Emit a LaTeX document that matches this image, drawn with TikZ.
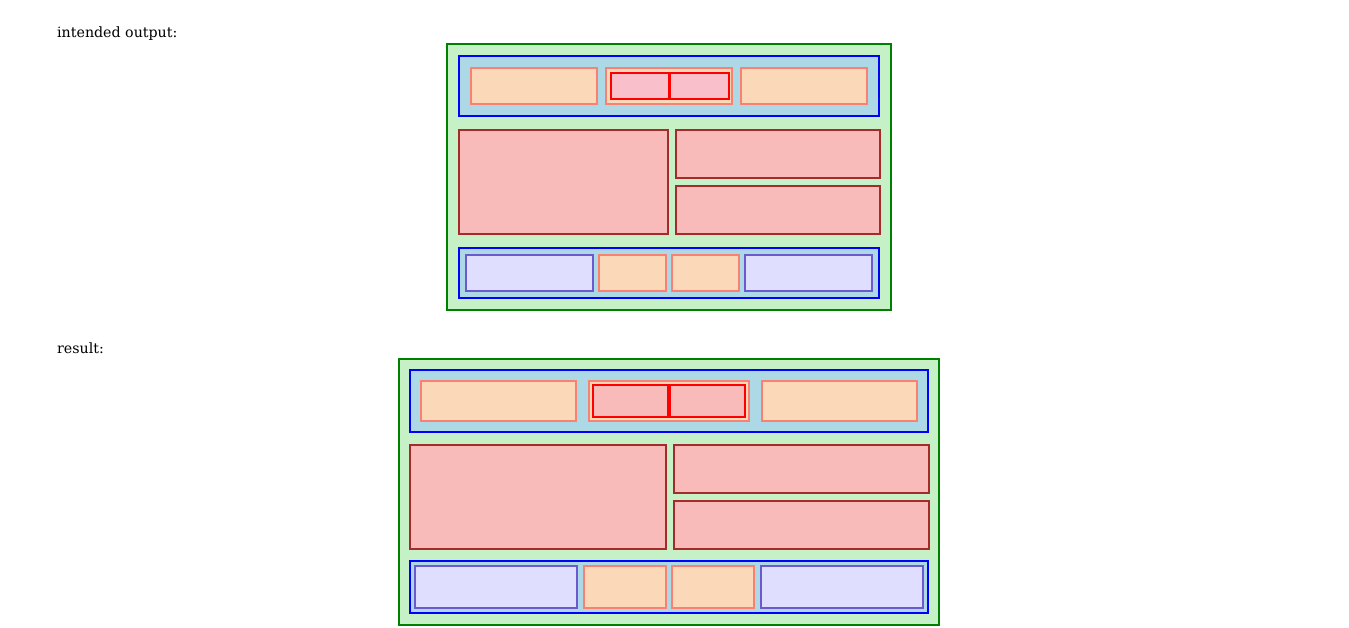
\documentclass[tikz,border=0pt]{standalone}
\usepackage{fontspec}
\setmainfont{DejaVu Serif}
\usepackage{tikz}
\usetikzlibrary{positioning}
\usepackage{xcolor}
\definecolor{framegreen}{HTML}{C6F0C6}
\definecolor{frameline}{HTML}{008000}
\definecolor{barblue}{HTML}{ADD8E6}
\definecolor{peachfill}{HTML}{FBD8B8}
\definecolor{salmonline}{HTML}{FA8072}
\definecolor{pinkcell}{HTML}{F9BFCB}
\definecolor{brickfill}{HTML}{F9BABA}
\definecolor{brickline}{HTML}{A52A2A}
\definecolor{lavfill}{HTML}{E0DEFF}
\definecolor{lavline}{HTML}{6A5ACD}

\begin{document}
\begin{tikzpicture}[
    x=1pt, y=-1pt,
    box/.style={rectangle, anchor=north west, inner sep=0pt, outer sep=0pt, line width=1.9pt},
    frame/.style={box, draw=frameline, fill=framegreen},
    bar/.style={box, draw=blue, fill=barblue},
    peach/.style={box, draw=salmonline, fill=peachfill},
    cell/.style={box, draw=red, fill=pinkcell, line width=2pt},
    brick/.style={box, draw=brickline, fill=brickfill},
    lav/.style={box, draw=lavline, fill=lavfill},
    caption/.style={anchor=base west, inner sep=0pt, font=\fontsize{14.2}{16}\selectfont}
]
    \useasboundingbox (0,0) rectangle (1349,628);

    % Labels
    \node[caption] (lblIntended) at (57,38) {intended output:};
    \node[caption] (lblResult) at (57,353) {result:};

    % Intended output
    \node[frame, minimum width=444pt, minimum height=266pt] (outerA) at (447,44) {};
    \node[bar, minimum width=420pt, minimum height=60pt] (topA) at (459,56) {};
    \node[peach, minimum width=126pt, minimum height=36pt] (peachA1) at (471,68) {};
    \node[peach, minimum width=126pt, minimum height=36pt] (peachA2) at (606,68) {};
    \node[cell, minimum width=57.5pt, minimum height=26pt] (cellA1) at (611,73) {};
    \node[cell, minimum width=58.5pt, minimum height=26pt] (cellA2) at (670,73) {};
    \node[peach, minimum width=126pt, minimum height=36pt] (peachA3) at (741,68) {};
    \node[brick, minimum width=209pt, minimum height=104pt] (brickA1) at (459,130) {};
    \node[brick, minimum width=204pt, minimum height=48pt] (brickA2) at (676,130) {};
    \node[brick, minimum width=204pt, minimum height=48pt] (brickA3) at (676,186) {};
    \node[bar, minimum width=420pt, minimum height=50pt] (botA) at (459,248) {};
    \node[lav, minimum width=127pt, minimum height=36pt] (lavA1) at (466,255) {};
    \node[peach, minimum width=67pt, minimum height=36pt] (peachA4) at (599,255) {};
    \node[peach, minimum width=67pt, minimum height=36pt] (peachA5) at (672,255) {};
    \node[lav, minimum width=127pt, minimum height=36pt] (lavA2) at (745,255) {};

    % Result
    \node[frame, minimum width=540pt, minimum height=266pt] (outerB) at (399,359) {};
    \node[bar, minimum width=518pt, minimum height=62pt] (topB) at (410,370) {};
    \node[peach, minimum width=155pt, minimum height=40pt] (peachB1) at (421,381) {};
    \node[peach, minimum width=160pt, minimum height=40pt] (peachB2) at (589,381) {};
    \node[cell, fill=brickfill, minimum width=75pt, minimum height=32pt] (cellB1) at (593,385) {};
    \node[cell, fill=brickfill, minimum width=75pt, minimum height=32pt] (cellB2) at (670,385) {};
    \node[peach, minimum width=155pt, minimum height=40pt] (peachB3) at (762,381) {};
    \node[brick, minimum width=256pt, minimum height=104pt] (brickB1) at (410,445) {};
    \node[brick, minimum width=255pt, minimum height=48pt] (brickB2) at (674,445) {};
    \node[brick, minimum width=255pt, minimum height=48pt] (brickB3) at (674,501) {};
    \node[bar, minimum width=518pt, minimum height=52pt] (botB) at (410,561) {};
    \node[lav, minimum width=162pt, minimum height=42pt] (lavB1) at (415,566) {};
    \node[peach, minimum width=82pt, minimum height=42pt] (peachB4) at (584,566) {};
    \node[peach, minimum width=82pt, minimum height=42pt] (peachB5) at (672,566) {};
    \node[lav, minimum width=162pt, minimum height=42pt] (lavB2) at (761,566) {};
\end{tikzpicture}
\end{document}
